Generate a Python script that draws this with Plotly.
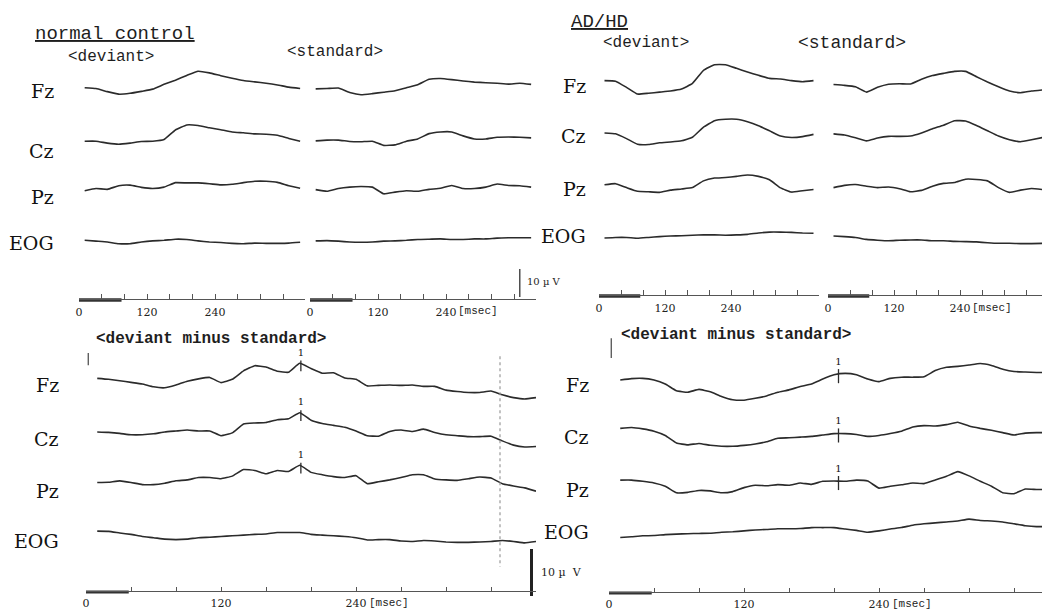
import numpy as np
import plotly.graph_objects as go

W, H = 1042, 613

# ---------------- data (µV; up = as drawn) ----------------
channels = ["Fz", "Cz", "Pz", "EOG"]

t_erp = [10, 30, 50, 70, 90, 110, 130, 150, 170, 190, 210, 230, 250, 270, 290, 310, 330, 350, 370, 390]
t_diff = [10, 20, 30, 40, 50, 60, 70, 80, 90, 100, 110, 120, 130, 140, 150, 160, 170, 180, 190, 200,
          210, 220, 230, 240, 250, 260, 270, 280, 290, 300, 310, 320, 330, 340, 350, 360, 370, 380, 390, 400]
tick_ms = [0, 40, 80, 120, 160, 200, 240, 280, 320, 360, 400]
tick_labels = {0: "0", 120: "120", 240: "240"}

# normal control, deviant
nc_dev_fz = [0.1, -0.2, -1.3, -2.2, -1.9, -1.2, -0.4, 1.3, 2.8, 4.5, 6.0, 5.4, 4.4, 3.5, 2.7, 2.2, 1.7, 1.1, 0.3, -0.2]
nc_dev_cz = [-1.0, -1.0, -1.7, -2.1, -1.7, -1.1, -1.0, -0.4, 3.0, 4.8, 4.6, 3.8, 3.1, 2.3, 2.0, 1.6, 1.5, 1.1, 0.0, -1.0]
nc_dev_pz = [-0.7, 0.1, -0.2, 1.1, 1.3, 0.5, 0.1, 0.6, 2.2, 2.1, 2.1, 1.8, 1.4, 1.6, 2.2, 2.7, 2.7, 2.3, 1.1, 0.2]
nc_dev_eog = [-0.4, -0.7, -1.0, -1.6, -1.6, -1.0, -0.6, -0.4, 0.0, -0.1, -0.6, -1.0, -1.2, -1.5, -1.6, -1.4, -1.5, -1.5, -1.4, -1.1]
# normal control, standard
nc_std_fz = [-0.3, -0.2, 0.0, -1.6, -2.4, -2.0, -1.5, -1.0, 0.1, 1.2, 3.1, 3.4, 3.0, 2.5, 2.1, 1.9, 1.7, 1.4, 1.7, 1.3]
nc_std_cz = [-0.9, -0.6, -0.6, -1.1, -1.2, -1.0, -2.5, -2.3, -1.0, -0.2, 1.7, 2.3, 2.3, 0.9, -0.2, -0.2, 0.4, 0.5, 0.4, 0.2]
nc_std_pz = [-0.3, -0.9, 0.1, 0.6, 0.8, 0.6, -1.8, -1.2, -0.7, -0.9, -0.2, 0.2, 1.2, 0.1, 0.1, 0.6, 1.7, 1.2, 1.1, 0.6]
nc_std_eog = [-0.6, -0.5, -0.7, -1.0, -1.1, -1.0, -0.7, -0.6, -0.4, -0.1, 0.0, 0.1, -0.1, -0.1, 0.1, 0.1, 0.4, 0.5, 0.5, 0.5]
# AD/HD, deviant
ad_dev_fz = [1.2, 1.0, -1.2, -3.6, -3.3, -2.9, -2.5, -1.8, 0.2, 4.9, 6.9, 6.9, 5.6, 4.3, 3.1, 2.0, 1.8, 1.2, 0.8, 1.2]
ad_dev_cz = [0.5, 0.2, -1.5, -3.5, -3.6, -3.0, -2.7, -2.3, -1.0, 2.6, 4.9, 5.4, 5.4, 4.5, 3.1, 1.3, -0.6, -1.1, -0.8, 0.0]
ad_dev_pz = [0.0, 0.4, -1.0, -2.3, -2.5, -2.7, -1.9, -1.5, -1.0, 1.4, 2.4, 2.6, 3.0, 3.5, 3.0, 1.8, -1.1, -2.6, -2.1, -1.7]
ad_dev_eog = [-1.0, -0.8, -0.8, -1.1, -0.8, -0.5, -0.3, -0.2, 0.0, 0.1, 0.1, 0.0, 0.1, 0.3, 0.8, 1.1, 1.1, 1.0, 0.8, 0.7]
# AD/HD, standard
ad_std_fz = [-0.2, -0.5, -1.0, -2.9, -1.2, -0.1, 0.1, 0.0, 1.7, 3.0, 3.8, 4.5, 4.5, 2.6, 0.7, -1.0, -2.5, -3.1, -2.5, -2.1]
ad_std_cz = [0.2, -0.2, -1.2, -2.3, -1.3, -0.7, -0.7, -0.6, 0.5, 2.0, 3.3, 4.9, 4.8, 3.2, 1.3, -0.6, -1.9, -2.6, -1.9, -1.1]
ad_std_pz = [-1.0, -0.2, 0.1, -0.5, -1.0, -0.8, -1.4, -2.5, -2.0, -0.5, 0.5, 0.8, 2.0, 1.9, 1.4, -1.0, -2.7, -1.9, -1.3, -1.7]
ad_std_eog = [-0.3, -0.5, -0.8, -1.5, -1.8, -2.0, -1.8, -1.7, -1.7, -2.0, -2.0, -2.2, -2.3, -2.4, -2.7, -2.9, -2.9, -3.0, -3.0, -2.9]

# deviant minus standard, normal control
nc_diff_fz = [-0.1, -0.3, -0.6, -0.95, -1.3, -1.9, -2.1, -1.5, -0.7, -0.2, 0.1, -1.0, -0.3, 1.5, 2.6, 2.3, 1.4, 1.2, 3.1, 2.0,
              1.0, 1.1, 0.0, -0.3, -1.7, -1.6, -1.5, -1.6, -1.5, -1.8, -1.8, -2.6, -2.9, -3.1, -3.1, -2.8, -3.6, -4.2, -4.5, -4.2]
nc_diff_cz = [-0.3, -0.4, -0.6, -0.9, -0.9, -0.7, -0.3, -0.1, 0.1, -0.1, -0.1, -1.1, -0.5, 1.4, 1.6, 1.7, 2.3, 2.5, 3.8, 2.2,
              1.5, 1.1, 0.7, -0.1, -1.1, -1.2, -0.2, 0.1, -0.2, 0.3, -0.4, -0.9, -1.1, -1.3, -1.3, -1.2, -2.2, -3.1, -3.5, -3.4]
nc_diff_pz = [0.15, 0.2, 0.5, 0.15, -0.3, -0.3, 0.0, 0.5, 0.7, 1.2, 1.2, 0.95, 1.5, 2.9, 2.7, 2.0, 2.7, 2.5, 3.8, 2.3,
              1.8, 1.4, 1.2, 1.6, -0.1, 0.3, 0.7, 1.2, 1.8, 1.8, 0.9, 0.7, 0.6, 0.95, 1.3, 1.1, -0.1, -0.6, -1.0, -1.7]
nc_diff_eog = [1.0, 0.95, 0.6, 0.3, -0.15, -0.4, -0.7, -0.8, -0.7, -0.4, -0.3, -0.15, 0.0, 0.15, 0.3, 0.4, 0.7, 0.7, 0.7, 0.3,
               0.15, 0.0, -0.15, -0.4, -0.9, -0.8, -0.8, -1.1, -1.2, -1.0, -1.1, -1.3, -1.4, -1.4, -1.3, -1.2, -1.0, -1.2, -1.5, -1.2]
# deviant minus standard, AD/HD
ad_diff_fz = [0.0, 0.3, 0.35, 0.0, -0.85, -2.3, -2.6, -2.0, -2.5, -3.5, -4.2, -4.3, -3.9, -3.4, -2.6, -2.1, -1.4, -0.85, 0.2, 1.1,
              1.4, 1.1, 0.2, -0.35, 0.35, 0.6, 0.6, 0.7, 2.0, 2.7, 2.9, 3.2, 3.5, 3.1, 2.3, 1.8, 1.7, 1.6, 1.6, 1.6]
ad_diff_cz = [0.9, 1.1, 0.8, 0.3, -0.6, -2.2, -2.6, -2.3, -2.7, -2.9, -2.9, -2.7, -2.4, -1.95, -1.2, -1.1, -0.95, -0.8, -0.5, -0.2,
              -0.2, -0.4, -0.8, -0.6, -0.2, 0.3, 1.2, 1.5, 1.4, 1.7, 2.2, 1.4, 0.9, 0.5, 0.0, -0.5, -0.1, 0.0, 0.0, 0.0]
ad_diff_pz = [1.1, 1.1, 0.85, 0.5, -0.2, -1.6, -1.5, -1.1, -1.2, -1.6, -1.35, -0.5, 0.0, -0.1, 0.15, 0.0, 0.5, 0.2, 0.85, 0.9,
              0.85, 1.1, 0.9, -0.6, -0.2, 0.1, 0.5, 0.35, 1.1, 1.9, 2.9, 2.0, 0.85, -0.2, -1.6, -1.8, -0.8, -0.9, -0.9, -0.9]
ad_diff_eog = [0.1, 0.25, 0.45, 0.5, 0.7, 0.8, 0.9, 0.95, 1.0, 1.2, 1.3, 1.5, 1.7, 1.8, 1.95, 1.95, 2.0, 2.2, 2.2, 2.2,
               1.9, 1.6, 1.2, 1.5, 1.9, 2.2, 2.7, 3.0, 3.2, 3.4, 3.6, 4.0, 3.7, 3.6, 3.4, 3.0, 2.6, 2.4, 2.4, 2.4]

# peak latencies (ms) marked "1", stimulus bar lengths (ms)
nc_peak_ms = 191
ad_peak_ms = 204
stim_top_ms = 75
stim_bottom_ms = 38
scale_uv = 10

# ---------------- layout geometry (pixels) ----------------
def px(x):
    return x / W


def py(y):
    return 1 - y / H


groups = {
    "top_nc": dict(base=88.0, scale=2.8, spacing=18.0, axis=299, top=45, lab=311, lsize=11, standoff=3, tl=5, sw=3.5),
    "top_ad": dict(base=84.0, scale=2.8, spacing=18.0, axis=295, top=38, lab=308, lsize=11, standoff=3, tl=5, sw=3.5),
    "bot_nc": dict(base=377.9, scale=4.7, spacing=11.2, axis=591, top=325, lab=603, lsize=11, standoff=2, tl=4, sw=3.0),
    "bot_ad": dict(base=380.0, scale=4.7, spacing=11.2, axis=592, top=318, lab=604, lsize=11, standoff=2, tl=4, sw=3.0),
}

panels = [
    # key, left px, px per ms, ms span, group, times, waves, msec-label
    ("nc_dev", 79, 0.567, 398, "top_nc", t_erp, [nc_dev_fz, nc_dev_cz, nc_dev_pz, nc_dev_eog], False),
    ("nc_std", 310, 0.567, 398, "top_nc", t_erp, [nc_std_fz, nc_std_cz, nc_std_pz, nc_std_eog], True),
    ("ad_dev", 599, 0.55, 400, "top_ad", t_erp, [ad_dev_fz, ad_dev_cz, ad_dev_pz, ad_dev_eog], False),
    ("ad_std", 828, 0.55, 400, "top_ad", t_erp, [ad_std_fz, ad_std_cz, ad_std_pz, ad_std_eog], True),
    ("nc_diff", 86, 1.125, 400, "bot_nc", t_diff, [nc_diff_fz, nc_diff_cz, nc_diff_pz, nc_diff_eog], True),
    ("ad_diff", 609, 1.125, 400, "bot_ad", t_diff, [ad_diff_fz, ad_diff_cz, ad_diff_pz, ad_diff_eog], True),
]

INK = "#2b2b2b"
AXC = "#555555"
fig = go.Figure()
layout_axes = {}
axis_ids = {}
annotations = []

for i, (key, x0, ppm, span, grp, tt, waves, msec) in enumerate(panels, start=1):
    g = groups[grp]
    x1 = min(x0 + ppm * span, W)
    t_hi = (x1 - x0) / ppm
    ybot = g["axis"] + 6
    yrng = [(g["base"] - ybot) / g["scale"], (g["base"] - g["top"]) / g["scale"]]
    xn = "xaxis" if i == 1 else f"xaxis{i}"
    yn = "yaxis" if i == 1 else f"yaxis{i}"
    xid = "x" if i == 1 else f"x{i}"
    yid = "y" if i == 1 else f"y{i}"
    axis_ids[key] = (xid, yid, g)
    tv = [t for t in tick_ms if t <= t_hi + 0.5]
    layout_axes[xn] = dict(
        domain=[px(x0), px(x1)], range=[0, t_hi], anchor="free", position=py(g["axis"]),
        showgrid=False, zeroline=False, showline=True, linecolor=AXC, linewidth=1,
        ticks="inside", ticklen=g["tl"], tickwidth=1, tickcolor=AXC,
        tickvals=tv, ticktext=[tick_labels.get(t, "") for t in tv],
        tickfont=dict(family="DejaVu Serif", size=g["lsize"], color="#222"),
        ticklabelstandoff=g["standoff"], fixedrange=True,
    )
    layout_axes[yn] = dict(domain=[py(ybot), py(g["top"])], range=yrng, visible=False,
                           anchor=xid, fixedrange=True)

    for k, w in enumerate(waves):
        off = -k * g["spacing"]
        fig.add_trace(go.Scatter(x=tt, y=[v + off for v in w], mode="lines",
                                 line=dict(color=INK, width=1.6, shape="spline", smoothing=0.35),
                                 xaxis=xid, yaxis=yid, hoverinfo="skip", showlegend=False))
    # stimulus bar on the time axis
    stim = stim_top_ms if grp.startswith("top") else stim_bottom_ms
    y_ax = (g["base"] - g["axis"] - 1) / g["scale"]
    fig.add_trace(go.Scatter(x=[0, stim], y=[y_ax, y_ax], mode="lines",
                             line=dict(color="#333", width=g["sw"]), xaxis=xid, yaxis=yid,
                             hoverinfo="skip", showlegend=False))
    if msec:
        annotations.append(dict(text="[msec]", x=240, xref=xid, xshift=10 if grp.startswith("top") else 11,
                                y=py(g["lab"]), yref="paper", xanchor="left", yanchor="middle",
                                showarrow=False,
                                font=dict(family="Liberation Mono", size=11, color="#222")))

# peak markers "1" on difference waves
for key, lat, up, dn, txt in [("nc_diff", nc_peak_ms, 0.7, 1.6, 2.3), ("ad_diff", ad_peak_ms, 1.1, 1.9, 2.5)]:
    xid, yid, g = axis_ids[key]
    tt = t_diff
    waves = [p for p in panels if p[0] == key][0][6]
    for k in range(3):
        off = -k * g["spacing"]
        v = float(np.interp(lat, tt, waves[k])) + off
        fig.add_trace(go.Scatter(x=[lat, lat], y=[v - dn, v + up], mode="lines",
                                 line=dict(color=INK, width=1.3), xaxis=xid, yaxis=yid,
                                 hoverinfo="skip", showlegend=False))
        fig.add_trace(go.Scatter(x=[lat], y=[v + txt], mode="text", text=["1"],
                                 textfont=dict(family="DejaVu Serif", size=10, color="#111"),
                                 xaxis=xid, yaxis=yid, hoverinfo="skip", showlegend=False))

# trigger ticks at start of difference waves
for key, ya, yb in [("nc_diff", 2.7, 5.3), ("ad_diff", 4.7, 8.9)]:
    xid, yid, g = axis_ids[key]
    fig.add_trace(go.Scatter(x=[2, 2], y=[ya, yb], mode="lines", line=dict(color="#444", width=1.2),
                             xaxis=xid, yaxis=yid, hoverinfo="skip", showlegend=False))

# dotted latency line in normal-control difference panel
xid, yid, g = axis_ids["nc_diff"]
fig.add_trace(go.Scatter(x=[368, 368], y=[4.6, -40.2], mode="lines",
                         line=dict(color="#999", width=1.2, dash="dot"),
                         xaxis=xid, yaxis=yid, hoverinfo="skip", showlegend=False))

# 10 µV calibration bars
xid, yid, g = axis_ids["nc_std"]
yb0 = (g["base"] - 297) / g["scale"]
fig.add_trace(go.Scatter(x=[370, 370], y=[yb0, yb0 + scale_uv], mode="lines",
                         line=dict(color="#333", width=1.3), xaxis=xid, yaxis=yid,
                         hoverinfo="skip", showlegend=False))
xid, yid, g = axis_ids["nc_diff"]
yb0 = (g["base"] - 596) / g["scale"]
fig.add_trace(go.Scatter(x=[396, 396], y=[yb0, yb0 + scale_uv], mode="lines",
                         line=dict(color="#222", width=3), xaxis=xid, yaxis=yid,
                         hoverinfo="skip", showlegend=False))


def ann(text, x, y, size, family="Liberation Mono", anchor="left", color="#1e1e1e"):
    annotations.append(dict(text=text, x=px(x), y=py(y), xref="paper", yref="paper",
                            xanchor=anchor, yanchor="middle", showarrow=False,
                            font=dict(family=family, size=size, color=color)))


ann("10 \u00b5 V", 525, 281, 10, family="DejaVu Serif")
ann("10 \u00b5  V", 539, 572, 11, family="DejaVu Serif")

# headers
ann("<u>normal control</u>", 33, 34, 19)
ann("&lt;deviant&gt;", 66, 57, 16)
ann("&lt;standard&gt;", 285, 52, 16)
ann("<u>AD/HD</u>", 569, 22, 19)
ann("&lt;deviant&gt;", 601, 43, 16)
ann("&lt;standard&gt;", 796, 43, 18)
ann("<b>&lt;deviant minus standard&gt;</b>", 94, 339, 16)
ann("<b>&lt;deviant minus standard&gt;</b>", 619, 335, 16)

# channel labels
lab_pos = [
    (56, [91, 151, 197, 243]),
    (588, [86, 136, 189, 236]),
    (61, [385, 439, 491, 541]),
    (591, [385, 437, 490, 532]),
]
for xr, ys in lab_pos:
    for ch, yy in zip(channels, ys):
        ann(ch, xr, yy, 19, family="DejaVu Serif", anchor="right", color="#111")

fig.update_layout(
    width=W, height=H, autosize=False,
    margin=dict(l=0, r=0, t=0, b=0, pad=0),
    paper_bgcolor="white", plot_bgcolor="white",
    template="none", showlegend=False, hovermode=False,
    annotations=annotations,
    **layout_axes,
)

fig.write_html("out.html", include_plotlyjs=True, config={"displayModeBar": False},
               post_script="document.body.style.margin='0';document.body.style.overflow='hidden';")
